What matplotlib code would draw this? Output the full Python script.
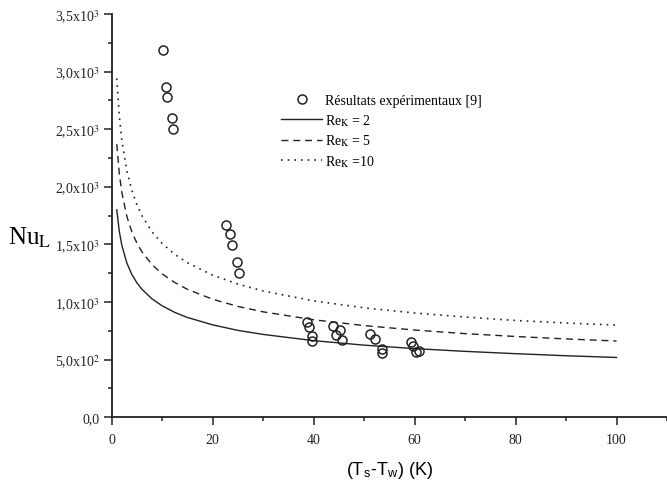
import matplotlib
matplotlib.use("Agg")
import matplotlib.pyplot as plt
from matplotlib.ticker import FixedLocator, MultipleLocator

plt.rcParams['font.family'] = ['Liberation Serif', 'DejaVu Serif']
plt.rcParams['mathtext.fontset'] = 'stix'

# Experimental data (Résultats expérimentaux [9])
exp_x = [10.2, 10.7, 10.9, 12.0, 12.1,
         22.7, 23.4, 23.9, 24.9, 25.2,
         38.6, 39.0, 39.6, 39.6,
         43.9, 45.2, 44.4, 45.6,
         51.2, 52.1, 53.5, 53.5,
         59.2, 59.7, 60.2, 60.9]
exp_y = [3185, 2864, 2782, 2595, 2502,
         1666, 1593, 1495, 1350, 1255,
         824, 781, 708, 660,
         790, 760, 717, 673,
         720, 677, 593, 555,
         656, 616, 569, 578]

# Model curves
curve_x = [1, 1.5, 2, 3, 4, 5, 6, 8, 10, 12.5, 15, 20, 25, 30, 40, 50, 60, 70, 80, 90, 100]
re2_y = [1800, 1613, 1493, 1338, 1238, 1166, 1110, 1027, 967, 910, 866, 802, 754, 719,
         665, 626, 596, 572, 552, 534, 519]
re5_y = [2370, 2116, 1952, 1742, 1608, 1510, 1435, 1324, 1244, 1169, 1110, 1024, 962, 915,
         846, 796, 757, 726, 701, 680, 662]
re10_y = [2940, 2614, 2405, 2138, 1967, 1843, 1748, 1608, 1508, 1413, 1341, 1233, 1156, 1096,
          1010, 950, 905, 870, 840, 818, 800]

y_ticks = [0, 500, 1000, 1500, 2000, 2500, 3000, 3500]
y_ticklabels = ['0,0', r'5,0x10$^2$', r'1,0x10$^3$', r'1,5x10$^3$', r'2,0x10$^3$',
                r'2,5x10$^3$', r'3,0x10$^3$', r'3,5x10$^3$']
x_ticks = [0, 20, 40, 60, 80, 100]

fig = plt.figure(figsize=(6.67, 4.81), dpi=100)
ax = fig.add_axes([0.1675, 0.1304, 0.8325, 0.8385])

ax.plot(exp_x, exp_y, linestyle='none', marker='o', markersize=6.5,
        markerfacecolor='none', markeredgecolor='#222222', markeredgewidth=1.1,
        label='Résultats expérimentaux [9]')
ax.plot(curve_x, re2_y, color='#222222', lw=1.0, ls='-', label=r'Re$_\mathrm{K}$ = 2')
ax.plot(curve_x, re5_y, color='#222222', lw=1.0, ls=(0, (5, 3.5)), label=r'Re$_\mathrm{K}$ = 5')
ax.plot(curve_x, re10_y, color='#222222', lw=1.2, ls=(0, (1, 3)), label=r'Re$_\mathrm{K}$ =10')

ax.set_xlim(0, 110)
ax.set_ylim(0, 3500)
ax.xaxis.set_major_locator(FixedLocator(x_ticks))
ax.xaxis.set_minor_locator(MultipleLocator(10))
ax.yaxis.set_major_locator(FixedLocator(y_ticks))
ax.yaxis.set_minor_locator(MultipleLocator(250))
ax.set_yticklabels(y_ticklabels)

for s in ['top', 'right']:
    ax.spines[s].set_visible(False)
for s in ['left', 'bottom']:
    ax.spines[s].set_linewidth(1.3)
    ax.spines[s].set_color('#222222')

ax.tick_params(which='major', direction='out', length=6, width=1.1, labelsize=10,
               colors='#222222')
ax.tick_params(which='minor', direction='out', length=3, width=1.1, colors='#222222')
ax.tick_params(axis='x', which='major', pad=5)
ax.tick_params(axis='y', which='major', pad=2.5)

ax.set_xlabel(r'(T$_\mathregular{s}$-T$_\mathregular{w}$) (K)', family=['Liberation Sans'],
              fontsize=13, labelpad=10)
fig.text(30 / 667, 1 - 238 / 481, r'Nu$_\mathrm{L}$', fontsize=18, ha='center', va='center')

leg = ax.legend(loc='upper left', bbox_to_anchor=(0.295, 0.816), frameon=False, fontsize=10,
                handlelength=2.95, handletextpad=0.22, labelspacing=0.36, borderaxespad=0)

fig.savefig('out.png', dpi=100)
